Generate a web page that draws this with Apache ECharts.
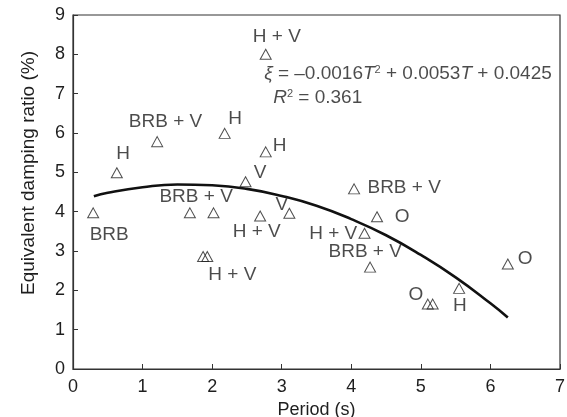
<!DOCTYPE html>
<html>
<head>
<meta charset="utf-8">
<script src="https://cdn.jsdelivr.net/npm/echarts@6/dist/echarts.min.js"></script>
<style>
  html, body { margin: 0; padding: 0; background: #fff; }
  #chart { width: 567px; height: 417px; }
</style>
</head>
<body>
<div id="chart"></div>
<script>
// measured points: period (s) vs damping ratio (%)
var periods = [0.29, 0.63, 1.21, 1.68, 1.87, 1.93, 2.02, 2.18, 2.48, 2.69, 2.77, 2.77, 3.11,
               4.04, 4.19, 4.27, 4.37, 5.10, 5.17, 5.55, 6.25];
var damping = [3.97, 4.99, 5.78, 3.97, 2.86, 2.86, 3.97, 5.99, 4.76, 3.89, 8.00, 5.52, 3.96,
               4.58, 3.45, 2.59, 3.87, 1.65, 1.65, 2.05, 2.67];

// fitted curve
var fitT  = [0.3, 0.5, 1.0, 1.5, 2.0, 2.5, 3.0, 3.5, 4.0, 4.5, 5.0, 5.5, 6.0, 6.25];
var fitXi = [4.39, 4.48, 4.62, 4.69, 4.67, 4.58, 4.40, 4.15, 3.81, 3.40, 2.90, 2.33, 1.67, 1.31];

// point labels and where they sit (data units)
var labelText = ["H + V", "BRB + V", "H", "H", "H", "V", "BRB + V", "V", "BRB", "H + V", "H + V",
                 "BRB + V", "O", "H + V", "BRB + V", "O", "O", "H"];
var labelX = [2.93, 1.33, 0.72, 2.33, 2.97, 2.69, 1.77, 3.00, 0.52, 2.64, 2.29,
              4.76, 4.73, 3.74, 4.20, 6.50, 4.93, 5.56];
var labelY = [8.45, 6.29, 5.47, 6.37, 5.68, 4.98, 4.37, 4.17, 3.41, 3.49, 2.39,
              4.61, 3.87, 3.45, 2.97, 2.81, 1.90, 1.60];

var xTicks = [0, 7, 1];
var yTicks = [0, 9, 1];

var FONT = "Liberation Sans, Arial, Helvetica, sans-serif";
var INK = "#1e1e1e";

var chart = echarts.init(document.getElementById("chart"));

var labelData = [];
for (var i = 0; i < labelText.length; i++) {
  labelData.push({ name: labelText[i], value: [labelX[i], labelY[i]] });
}

var option = {
  animation: false,
  backgroundColor: "#fff",
  grid: {
    left: 73, top: 15, right: 7, bottom: 48,
    outerBoundsMode: "none",
    containLabel: false,
    show: true, borderColor: "#333", borderWidth: 1.2
  },
  xAxis: {
    type: "value",
    min: xTicks[0], max: xTicks[1], interval: xTicks[2],
    name: "Period (s)",
    nameLocation: "middle",
    nameGap: 28,
    nameTextStyle: { fontFamily: FONT, fontSize: 18, color: INK },
    axisLine: { lineStyle: { color: "#333", width: 1.2 } },
    axisTick: { inside: true, length: 5, lineStyle: { color: "#333" } },
    axisLabel: { fontFamily: FONT, fontSize: 18, color: INK, margin: 9 },
    splitLine: { show: false }
  },
  yAxis: {
    type: "value",
    min: yTicks[0], max: yTicks[1], interval: yTicks[2],
    axisLine: { show: true, lineStyle: { color: "#333", width: 1.2 } },
    axisTick: { show: true, inside: true, length: 5, lineStyle: { color: "#333" } },
    axisLabel: { fontFamily: FONT, fontSize: 18, color: INK, margin: 8 },
    splitLine: { show: false }
  },
  graphic: [{
    type: "text",
    left: 19, top: 51,
    rotation: Math.PI / 2,
    style: {
      text: "Equivalent damping ratio (%)",
      font: "19px " + FONT,
      fill: INK
    }
  }],
  series: [
    {
      name: "fit",
      type: "line",
      smooth: true,
      showSymbol: false,
      data: fitT.map(function (t, k) { return [t, fitXi[k]]; }),
      lineStyle: { color: "#111", width: 2.6 },
      z: 2
    },
    {
      name: "points",
      type: "scatter",
      symbol: "triangle",
      symbolSize: [11, 10],
      data: periods.map(function (p, k) { return [p, damping[k]]; }),
      itemStyle: { color: "rgba(0,0,0,0)", borderColor: "#222", borderWidth: 1 },
      z: 3
    },
    {
      name: "labels",
      type: "scatter",
      symbolSize: 1,
      silent: true,
      itemStyle: { color: "rgba(0,0,0,0)" },
      label: {
        show: true,
        position: "inside",
        formatter: function (p) { return p.name; },
        fontFamily: FONT, fontSize: 19, color: INK
      },
      data: labelData,
      z: 4
    },
    {
      name: "equation",
      type: "scatter",
      symbolSize: 1,
      silent: true,
      itemStyle: { color: "rgba(0,0,0,0)" },
      label: {
        show: true,
        position: "right",
        distance: 0,
        formatter: function (p) { return p.name; },
        fontFamily: FONT, fontSize: 19, color: INK,
        rich: {
          i: { fontFamily: FONT, fontSize: 19, fontStyle: "italic", color: INK },
          sup: { fontFamily: FONT, fontSize: 11, color: INK, padding: [0, 0, 9, 0] }
        }
      },
      data: [
        { name: "{i|ξ} = –0.0016{i|T}{sup|2} + 0.0053{i|T} + 0.0425", value: [2.74, 7.50] },
        { name: "{i|R}{sup|2} = 0.361", value: [2.87, 6.89] }
      ],
      z: 4
    }
  ]
};

chart.setOption(option);
</script>
</body>
</html>
